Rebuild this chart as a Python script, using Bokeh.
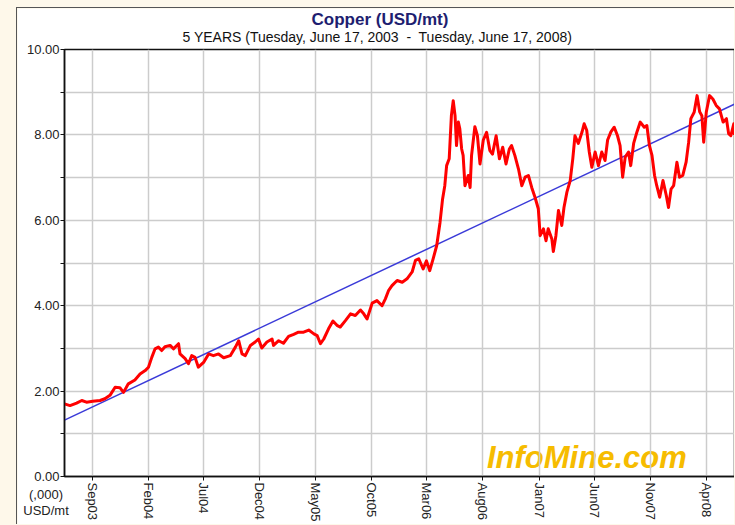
import datetime as dt
from bokeh.plotting import figure
from bokeh.models import FixedTicker, Label, ColumnDataSource, Title, Div
from bokeh.layouts import column
from bokeh.embed import file_html
from bokeh.resources import INLINE

# ---------------- data ----------------
start_date = "2003-06-17"
end_date = "2008-06-17"
title_text = "Copper (USD/mt)"
subtitle_text = "5 YEARS (Tuesday, June 17, 2003\u00a0 -\u00a0 Tuesday, June 17, 2008)"
unit_lines = ["(,000)", "USD/mt"]
logo_text = "InfoMine.com"

x_tick_labels = ["Sep03", "Feb04", "Jul04", "Dec04", "May05", "Oct05",
                 "Mar06", "Aug06", "Jan07", "Jun07", "Nov07", "Apr08"]
x_tick_dates = ["2003-09-01", "2004-02-01", "2004-07-01", "2004-12-01",
                "2005-05-01", "2005-10-01", "2006-03-01", "2006-08-01",
                "2007-01-01", "2007-06-01", "2007-11-01", "2008-04-01"]
y_ticks = [0, 1, 2, 3, 4, 5, 6, 7, 8, 9, 10]
y_tick_labels = ["0.00", "", "2.00", "", "4.00", "", "6.00", "", "8.00", "", "10.00"]

# days after start date, price in thousand USD/mt
days = [0, 15, 33, 47, 60, 77, 97, 110, 124, 138, 151, 161, 174, 192, 206, 220,
        229, 238, 247, 256, 265, 274, 288, 297, 311, 315, 329, 338, 347, 356, 365,
        380, 393, 406, 420, 434, 452, 466, 475, 484, 493, 507, 520, 529, 538, 552,
        566, 570, 584, 597, 611, 625, 638, 652, 666, 680, 689, 698, 707, 720, 732,
        743, 752, 766, 780, 793, 807, 816, 825, 839, 852, 866, 875, 884, 893, 907,
        921, 934, 948, 957, 966, 978, 987, 996, 1005, 1015, 1024, 1031, 1037, 1042,
        1049, 1055, 1060, 1065, 1069, 1074, 1078, 1083, 1087, 1092, 1101, 1106,
        1110, 1119, 1126, 1133, 1142, 1151, 1160, 1167, 1177, 1186, 1195, 1204,
        1213, 1219, 1228, 1238, 1247, 1256, 1265, 1274, 1283, 1292, 1297, 1306,
        1313, 1319, 1329, 1333, 1340, 1347, 1356, 1362, 1370, 1379, 1386, 1392,
        1401, 1411, 1417, 1424, 1431, 1438, 1447, 1456, 1465, 1474, 1481, 1490,
        1499, 1508, 1515, 1522, 1529, 1538, 1544, 1552, 1561, 1570, 1581, 1588,
        1595, 1602, 1609, 1615, 1623, 1632, 1641, 1647, 1654, 1661, 1670, 1677,
        1686, 1695, 1702, 1708, 1717, 1725, 1732, 1738, 1743, 1750, 1759, 1768,
        1777, 1786, 1796, 1805, 1811, 1817, 1825, 1827]
price = [1.70, 1.66, 1.72, 1.78, 1.74, 1.76, 1.78, 1.82, 1.90, 2.09, 2.08, 1.97,
         2.17, 2.26, 2.40, 2.48, 2.56, 2.79, 2.99, 3.03, 2.95, 3.04, 3.07, 2.99,
         3.11, 2.87, 2.76, 2.64, 2.83, 2.79, 2.56, 2.68, 2.87, 2.83, 2.87, 2.78,
         2.83, 3.03, 3.18, 2.87, 2.83, 3.07, 3.15, 3.22, 3.01, 3.15, 3.22, 3.07,
         3.18, 3.12, 3.28, 3.33, 3.38, 3.38, 3.43, 3.34, 3.30, 3.11, 3.22, 3.46,
         3.64, 3.54, 3.50, 3.65, 3.81, 3.77, 3.90, 3.81, 3.69, 4.06, 4.12, 4.00,
         4.16, 4.36, 4.47, 4.59, 4.55, 4.63, 4.79, 5.06, 5.10, 4.86, 5.05, 4.82,
         5.09, 5.41, 5.95, 6.50, 6.81, 7.28, 7.44, 8.45, 8.80, 8.45, 7.75, 8.30,
         8.14, 7.67, 7.52, 6.81, 7.05, 6.77, 7.52, 8.19, 7.98, 7.32, 7.88, 8.06,
         7.63, 7.55, 7.98, 7.44, 7.71, 7.32, 7.67, 7.75, 7.52, 7.20, 6.81, 7.01,
         7.05, 6.77, 6.54, 6.27, 5.64, 5.80, 5.52, 5.80, 5.56, 5.27, 5.64, 6.23,
         5.88, 6.30, 6.66, 6.93, 7.44, 7.98, 7.80, 8.06, 8.26, 8.11, 7.60, 7.24,
         7.60, 7.28, 7.60, 7.40, 7.88, 8.07, 8.18, 7.98, 7.75, 7.01, 7.48, 7.60,
         7.28, 7.80, 8.07, 8.30, 8.18, 8.22, 7.75, 7.52, 7.05, 6.81, 6.54, 6.93,
         6.58, 6.30, 6.73, 6.81, 7.36, 7.01, 7.05, 7.36, 7.83, 8.38, 8.53, 8.92,
         8.54, 8.45, 7.83, 8.53, 8.92, 8.84, 8.69, 8.61, 8.30, 8.38, 8.03, 7.98,
         8.26, 8.00]
trend_values = [1.32, 8.72]   # trend line value at start and end date

# ---------------- derived ----------------
d0 = dt.date.fromisoformat(start_date)
total_days = (dt.date.fromisoformat(end_date) - d0).days
tick_days = [(dt.date.fromisoformat(d) - d0).days for d in x_tick_dates]

FONT = "Liberation Sans"
CREAM = "#FEF8EA"

p = figure(width=718, height=517, x_range=(0, total_days), y_range=(0, 10),
           output_backend="svg", toolbar_location=None,
           min_border_left=47, min_border_right=1, min_border_top=41,
           min_border_bottom=49, background_fill_color="white",
           border_fill_color="white", outline_line_color="#111111",
           outline_line_width=1.5)
p.margin = (7, 0, 0, 16)
p.styles = {"border-left": "1px solid #555555", "border-top": "1px solid #555555"}
p.title.visible = False

# titles (subtitle first: closest to the plot)
p.add_layout(Title(text=subtitle_text, align="left", offset=118, standoff=3.5,
                   vertical_align="top", text_font=FONT, text_font_size="14px",
                   text_font_style="normal", text_color="#111111"), "above")
p.add_layout(Title(text=title_text, align="left", offset=247, standoff=-2,
                   vertical_align="bottom", text_font=FONT, text_font_size="17px",
                   text_font_style="bold", text_color="#1E1E70"), "above")

src = ColumnDataSource(dict(x=days, y=price))
p.line(x=[0, total_days], y=trend_values, line_color="#3A3AD8", line_width=1.5)
p.line("x", "y", source=src, line_color="#FF0000", line_width=3, line_join="round")

# axes
xa = p.xaxis[0]
xa.ticker = FixedTicker(ticks=tick_days)
xa.major_label_overrides = {t: l for t, l in zip(tick_days, x_tick_labels)}
xa.major_label_orientation = "vertical"
ya = p.yaxis[0]
ya.ticker = FixedTicker(ticks=y_ticks)
ya.major_label_overrides = {t: l for t, l in zip(y_ticks, y_tick_labels)}
for ax in (xa, ya):
    ax.major_label_text_font = FONT
    ax.major_label_text_font_size = "13px"
    ax.major_label_text_color = "#222222"
    ax.axis_line_color = "#111111"
    ax.axis_line_width = 1.5
    ax.major_tick_line_color = "#111111"
    ax.major_tick_out = 4
    ax.major_tick_in = 0
    ax.minor_tick_line_color = None
xa.major_label_standoff = 2
ya.major_label_standoff = 1

p.xgrid.grid_line_color = "#CCCCCC"
p.ygrid.grid_line_color = "#CCCCCC"
p.xgrid.grid_line_width = 1.5
p.ygrid.grid_line_width = 1.5

# watermark logo inside the plot
p.add_layout(Label(x=1152, y=0.03, text=logo_text, level="image",
                   text_font=FONT, text_font_size="31px",
                   text_font_style="bold italic", text_color="#F6BC00",
                   text_align="left", text_baseline="bottom"))

# unit note below the y axis (outside the plot frame)
unit_div = Div(text="<br>".join(unit_lines), width=46, height=34,
               margin=(-37, 0, 0, 23),
               styles={"font-family": FONT, "font-size": "13px", "line-height": "16px",
                       "color": "#222222", "text-align": "center", "z-index": "5"})

layout = column(p, unit_div, spacing=0)

html = file_html(layout, INLINE, title="Copper (USD/mt)")
html = html.replace("</head>", "<style>body{background:%s;}</style></head>" % CREAM, 1)
open("out.html", "w").write(html)
